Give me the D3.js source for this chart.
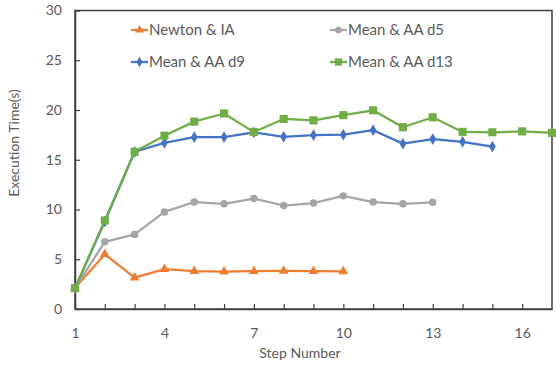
<!DOCTYPE html>
<html>
<head>
<meta charset="utf-8">
<script src="https://cdn.jsdelivr.net/npm/d3@7"></script>
<style>
  html, body { margin: 0; padding: 0; background: #fff; }
  svg text { font-family: Lato, "Open Sans", sans-serif; fill: #595959; }
</style>
</head>
<body>
<svg id="chart" width="556" height="365"></svg>
<script>
// Step numbers and execution times (seconds) for each method
const newtonSteps = [1, 2, 3, 4, 5, 6, 7, 8, 9, 10];
const newtonIA    = [2.1, 5.5, 3.15, 4.0, 3.8, 3.75, 3.8, 3.82, 3.8, 3.78];

const d5Steps = [1, 2, 3, 4, 5, 6, 7, 8, 9, 10, 11, 12, 13];
const meanAAd5 = [2.1, 6.75, 7.5, 9.76, 10.75, 10.57, 11.1, 10.4, 10.65, 11.37, 10.75, 10.57, 10.72];

const d9Steps = [1, 2, 3, 4, 5, 6, 7, 8, 9, 10, 11, 12, 13, 14, 15];
const meanAAd9 = [2.1, 8.8, 15.8, 16.7, 17.27, 17.27, 17.75, 17.3, 17.47, 17.52, 17.97, 16.62, 17.08, 16.8, 16.32];

const d13Steps = [1, 2, 3, 4, 5, 6, 7, 8, 9, 10, 11, 12, 13, 14, 15, 16, 17];
const meanAAd13 = [2.1, 8.9, 15.8, 17.42, 18.83, 19.65, 17.78, 19.1, 18.96, 19.48, 19.97, 18.27, 19.27, 17.8, 17.76, 17.85, 17.7];

const seriesNames = ["Newton & IA", "Mean & AA d5", "Mean & AA d9", "Mean & AA d13"];
const seriesColors = ["#ED7D31", "#A5A5A5", "#4472C4", "#70AD47"];
const seriesSymbols = [d3.symbolTriangle, d3.symbolCircle, d3.symbolDiamond, d3.symbolSquare];
const seriesMarkerSize = [42, 44, 40, 66];

const xTickLabels = [1, 4, 7, 10, 13, 16];
const yTickLabels = [0, 5, 10, 15, 20, 25, 30];

const series = [
  { steps: newtonSteps, values: newtonIA },
  { steps: d5Steps, values: meanAAd5 },
  { steps: d9Steps, values: meanAAd9 },
  { steps: d13Steps, values: meanAAd13 }
];

const svg = d3.select("#chart");
const plot = { left: 75, right: 552, top: 10.5, bottom: 309 };

const x = d3.scaleLinear().domain([1, 17]).range([plot.left, plot.right]);
const y = d3.scaleLinear().domain([0, 30]).range([plot.bottom, plot.top]);

// Plot frame
svg.append("rect")
  .attr("x", plot.left).attr("y", plot.top)
  .attr("width", plot.right - plot.left).attr("height", plot.bottom - plot.top)
  .attr("fill", "none").attr("stroke", "#404040").attr("stroke-width", 1.5);

// X axis: a tick at every step, labels every third step
const xAxis = d3.axisBottom(x)
  .tickValues(d3.range(1, 17))
  .tickSizeInner(-5).tickSizeOuter(0)
  .tickFormat(d => xTickLabels.includes(d) ? d : "");
const gx = svg.append("g").attr("transform", `translate(0,${plot.bottom})`).call(xAxis);
gx.select(".domain").attr("stroke", "#404040").attr("stroke-width", 1.5);
gx.selectAll(".tick line").attr("stroke", "#404040").attr("stroke-width", 1.2);
gx.selectAll(".tick text").attr("dy", 0).attr("y", 29).style("font-size", "14px");

// Y axis
const yAxis = d3.axisLeft(y)
  .tickValues(yTickLabels)
  .tickSizeInner(-5).tickSizeOuter(0);
const gy = svg.append("g").attr("transform", `translate(${plot.left},0)`).call(yAxis);
gy.select(".domain").attr("stroke", "#404040").attr("stroke-width", 1.5);
gy.selectAll(".tick line").attr("stroke", "#404040").attr("stroke-width", 1.2);
gy.selectAll(".tick text").attr("x", -13).style("font-size", "14px");

// Axis titles
svg.append("text")
  .attr("x", 300).attr("y", 358)
  .attr("text-anchor", "middle")
  .style("font-size", "14px")
  .text("Step Number");

svg.append("text")
  .attr("transform", "translate(19,143) rotate(-90)")
  .attr("text-anchor", "middle")
  .style("font-size", "14px")
  .text("Execution Time(s)");

// Series lines and markers
const line = d3.line().x(d => x(d[0])).y(d => y(d[1]));

series.forEach((s, i) => {
  const pts = s.steps.map((st, j) => [st, s.values[j]]);
  const g = svg.append("g");
  g.append("path")
    .datum(pts)
    .attr("d", line)
    .attr("fill", "none")
    .attr("stroke", seriesColors[i])
    .attr("stroke-width", 2.25)
    .attr("stroke-linejoin", "round");
  g.selectAll("path.marker")
    .data(pts)
    .join("path")
    .attr("class", "marker")
    .attr("transform", d => `translate(${x(d[0])},${y(d[1])})`)
    .attr("d", d3.symbol().type(seriesSymbols[i]).size(seriesMarkerSize[i]))
    .attr("fill", seriesColors[i]);
});

// Legend, two columns by two rows
const legendPos = [
  { lx: 131, ly: 30 },
  { lx: 330, ly: 30 },
  { lx: 131, ly: 62 },
  { lx: 330, ly: 62 }
];
seriesNames.forEach((name, i) => {
  const p = legendPos[i];
  const g = svg.append("g").attr("transform", `translate(${p.lx},${p.ly})`);
  g.append("line")
    .attr("x1", 0).attr("x2", 17).attr("y1", 0).attr("y2", 0)
    .attr("stroke", seriesColors[i]).attr("stroke-width", 2.25);
  g.append("path")
    .attr("transform", "translate(8.5,0)")
    .attr("d", d3.symbol().type(seriesSymbols[i]).size(seriesMarkerSize[i] * 0.8))
    .attr("fill", seriesColors[i]);
  g.append("text")
    .attr("x", 18).attr("y", 0).attr("dy", "0.35em")
    .style("font-size", "15px")
    .text(name);
});
</script>
</body>
</html>
